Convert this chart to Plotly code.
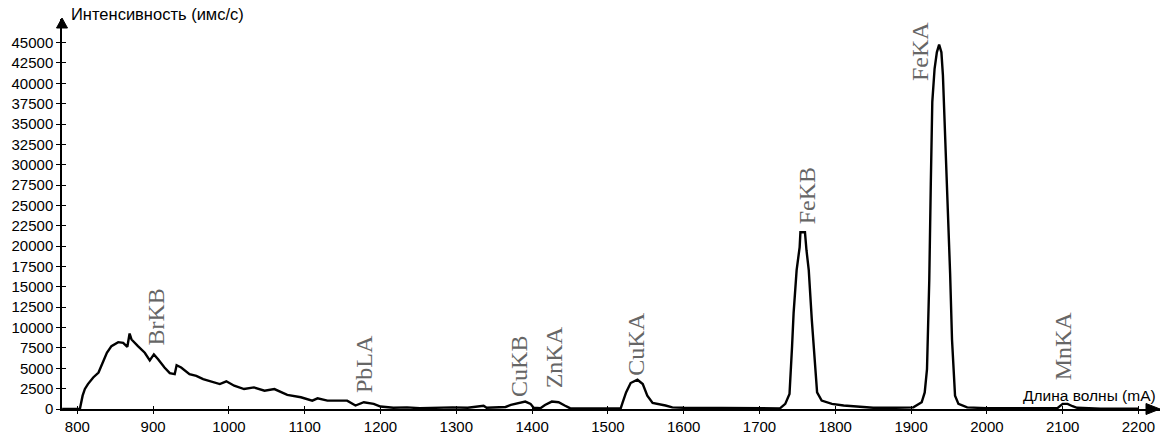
import plotly.graph_objects as go

# Spectrum: wavelength (mA) vs intensity (imp/s)
wavelength = [780, 800, 803.5, 807, 810, 814, 821, 828, 834, 839, 845, 854, 860.5, 866, 869, 871.5,
              880, 889, 895.6, 901, 906.6, 915, 922, 928.5, 931, 937, 948, 957, 966, 979, 988, 996.6,
              1007, 1020, 1033, 1047, 1060, 1077, 1095, 1110, 1117, 1130, 1156, 1167, 1178, 1191, 1200,
              1217, 1235, 1252, 1275, 1295, 1315, 1336, 1340, 1360, 1365, 1372, 1385, 1391, 1398, 1402,
              1411, 1417, 1426, 1435, 1443, 1450, 1480, 1517, 1519.6, 1524, 1530, 1539, 1546, 1552, 1559,
              1567.5, 1576, 1585, 1600, 1650, 1700, 1727, 1734, 1739.6, 1743, 1745, 1749, 1753, 1754,
              1760, 1762, 1765, 1769, 1773.6, 1776, 1782, 1795.6, 1811, 1850, 1880, 1903, 1914, 1918,
              1921, 1924, 1926, 1928, 1931, 1934, 1937, 1940, 1942, 1944, 1947, 1949, 1951.5, 1954,
              1956, 1958, 1962.5, 1974, 2000, 2050, 2093, 2100, 2106.5, 2113, 2119, 2150, 2200]
intensity = [0, 0, 50, 1640, 2460, 3060, 3870, 4480, 5700, 6900, 7720, 8210, 8130, 7640, 9270, 8540,
             7720, 6910, 5980, 6710, 6100, 5090, 4400, 4280, 5380, 5090, 4280, 4070, 3670, 3260, 3060, 3400,
             2860, 2450, 2650, 2250, 2450, 1730, 1440, 1030, 1310, 1030, 1030, 430, 830, 630, 300,
             150, 200, 100, 150, 200, 150, 400, 150, 200, 250, 500, 830, 910, 630, 150,
             100, 500, 910, 830, 430, 100, 80, 100, 830, 2040, 3190, 3590, 3060, 1640, 750,
             630, 430, 200, 150, 120, 100, 80, 630, 1850, 7720, 11780, 17060, 19890, 21700,
             21700, 19500, 17060, 10970, 4480, 2040, 1030, 630, 430, 150, 150, 200, 830, 2040,
             4890, 15840, 27590, 37730, 41790, 43810, 44760, 43810, 40970, 36110, 29220, 22730, 16640, 8540,
             4480, 1640, 630, 200, 100, 50, 100, 630, 630, 340, 150, 30, 30]

# Peak labels
peak_names = ["BrKB", "PbLA", "CuKB", "ZnKA", "CuKA", "FeKB", "FeKA", "MnKA"]
peak_x = [904, 1178, 1383, 1429, 1537, 1763, 1912, 2100]
peak_label_y = [7500, 1700, 1200, 2300, 3900, 22400, 40000, 3300]

x_ticks = list(range(800, 2201, 100))
y_ticks = list(range(0, 45001, 2500))

x_range = [779.8, 2228.4]
y_range = [0, 47900]

fig = go.Figure()
fig.add_trace(go.Scatter(x=wavelength, y=intensity, mode="lines",
                         line=dict(color="black", width=2.4), showlegend=False, hoverinfo="skip"))
# invisible trace to host the inner-tick overlay axes
fig.add_trace(go.Scatter(x=[None], y=[None], xaxis="x2", yaxis="y2", showlegend=False))

tickfont = dict(family="Liberation Sans, Arial, sans-serif", size=15, color="black")

fig.update_layout(
    width=1161, height=436,
    margin=dict(l=62, r=1, t=19, b=22),
    paper_bgcolor="white", plot_bgcolor="white",
    xaxis=dict(range=x_range, tickmode="array", tickvals=x_ticks, ticktext=[str(v) for v in x_ticks],
               showgrid=False, zeroline=False, showline=True, linecolor="black", linewidth=1.5,
               ticks="outside", ticklen=3, tickwidth=1, tickcolor="black", tickfont=tickfont),
    yaxis=dict(range=y_range, tickmode="array", tickvals=y_ticks, ticktext=[str(v) for v in y_ticks],
               showgrid=False, zeroline=False, showline=True, linecolor="black", linewidth=1.5,
               ticks="outside", ticklen=4, tickwidth=1, tickcolor="black", tickfont=tickfont),
    xaxis2=dict(range=x_range, overlaying="x", anchor="y2", tickmode="array", tickvals=x_ticks,
                showticklabels=False, showgrid=False, zeroline=False, showline=False,
                ticks="inside", ticklen=3, tickwidth=1, tickcolor="black", side="bottom"),
    yaxis2=dict(range=y_range, overlaying="y", anchor="x2", tickmode="array", tickvals=y_ticks,
                showticklabels=False, showgrid=False, zeroline=False, showline=False,
                ticks="inside", ticklen=4, tickwidth=1, tickcolor="black", side="left"),
)

annotations = []
for name, px, py in zip(peak_names, peak_x, peak_label_y):
    annotations.append(dict(x=px, y=py, xref="x", yref="y", text=name, textangle=-90,
                            showarrow=False, xanchor="center", yanchor="bottom",
                            font=dict(family="Liberation Serif, Times New Roman, serif", size=24,
                                      color="#666666")))
annotations.append(dict(x=0, y=1, xref="paper", yref="paper", text="Интенсивность (имс/с)",
                        showarrow=False, xanchor="left", yanchor="middle", xshift=7, yshift=5,
                        font=dict(family="Liberation Sans, Arial, sans-serif", size=16.5, color="black")))
annotations.append(dict(x=1, y=0, xref="paper", yref="paper", text="Длина волны (mA)",
                        showarrow=False, xanchor="right", yanchor="bottom", xshift=-2, yshift=3,
                        font=dict(family="Liberation Sans, Arial, sans-serif", size=15.5, color="black")))
fig.update_layout(annotations=annotations)

# axis arrowheads
fig.update_layout(shapes=[
    dict(type="path", xref="paper", yref="paper", xsizemode="pixel", ysizemode="pixel",
         xanchor=1, yanchor=0, path="M 0 0 L -14 5.5 L -14 -5.5 Z",
         fillcolor="black", line=dict(color="black", width=1)),
    dict(type="path", xref="paper", yref="paper", xsizemode="pixel", ysizemode="pixel",
         xanchor=0, yanchor=1, path="M 0 1 L -5.5 -9 L 5.5 -9 Z",
         fillcolor="black", line=dict(color="black", width=1)),
])

fig.write_html("out.html")
